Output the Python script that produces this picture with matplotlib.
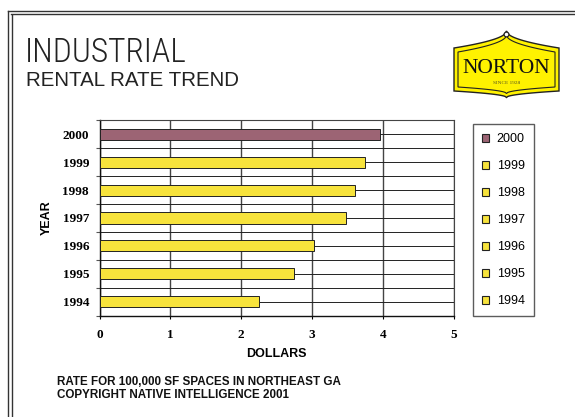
import numpy as np
import matplotlib.pyplot as plt
from matplotlib.patches import Polygon, Circle, Rectangle
from matplotlib.lines import Line2D

# rental rate per year, dollars
years = ['1994', '1995', '1996', '1997', '1998', '1999', '2000']
rates = [2.25, 2.75, 3.02, 3.47, 3.61, 3.75, 3.95]
bar_colors = ['#F7E33C'] * 6 + ['#9C6474']
x_ticks = [0, 1, 2, 3, 4, 5]

W, H = 575, 417
fig = plt.figure(figsize=(W / 100, H / 100), dpi=100)
fig.patch.set_facecolor('white')

sans = ['Liberation Sans', 'DejaVu Sans']
serif = ['Liberation Serif', 'DejaVu Serif']

# double frame, top and left
for px in (7.5, 11.5):
    fig.add_artist(Line2D([px / W, px / W], [0, 1 - (px + 3) / H], color='#333333', lw=1.0))
for py in (10.5, 14.0):
    fig.add_artist(Line2D([(py - 3) / W, 1], [1 - py / H, 1 - py / H], color='#333333', lw=1.0))

# titles
fig.text(25 / W, 1 - 61.5 / H, 'INDUSTRIAL', family=['Roboto Condensed', 'Archivo Narrow'] + sans,
         fontsize=24, fontweight=300, color='#222222', va='baseline', ha='left')
fig.text(26 / W, 1 - 86 / H, 'RENTAL RATE TREND', family=sans,
         fontsize=14.8, color='#222222', va='baseline', ha='left')

# main chart
ax = fig.add_axes([99.5 / W, 1 - 315.7 / H, (454 - 99.5) / W, (315.7 - 120.3) / H])
ypos = np.arange(len(years))
bars = ax.barh(ypos, rates, height=0.4, color=bar_colors, edgecolor='#222222',
               linewidth=0.7, zorder=3)
ax.set_xlim(0, 5)
ax.set_ylim(-0.5, len(years) - 0.5)
ax.set_xticks(x_ticks)
ax.set_xticklabels([str(v) for v in x_ticks], family=serif, fontweight='bold', fontsize=9.5)
ax.set_yticks(ypos)
ax.set_yticklabels(years, family=serif, fontweight='bold', fontsize=9.5)
ax.set_yticks(np.arange(-0.5, len(years)), minor=True)
ax.tick_params(axis='y', which='major', length=0, pad=7.5)
ax.tick_params(axis='y', which='minor', length=3, width=0.8, color='#555555', direction='out')
ax.tick_params(axis='x', which='major', length=2.5, width=0.8, pad=7, direction='out')
ax.grid(axis='y', which='both', color='#222222', lw=0.7, zorder=0)
ax.grid(axis='x', which='major', color='#444444', lw=1.0, zorder=0)
ax.set_axisbelow(True)
for side in ('top', 'right'):
    ax.spines[side].set_color('#444444')
    ax.spines[side].set_linewidth(0.8)
for side in ('left', 'bottom'):
    ax.spines[side].set_color('#111111')
    ax.spines[side].set_linewidth(1.0)
ax.set_xlabel('DOLLARS', family=sans, fontweight='bold', fontsize=9, labelpad=5)
ax.set_ylabel('YEAR', family=sans, fontweight='bold', fontsize=9, labelpad=7)

# legend, newest year first
handles = [Rectangle((0, 0), 1, 1, facecolor=c, edgecolor='#222222', lw=0.8)
           for c in bar_colors[::-1]]
leg = fig.legend(handles, years[::-1], loc='upper left',
                 bbox_to_anchor=(473 / W, 1 - 124.5 / H), frameon=True, fancybox=False,
                 prop={'family': sans, 'size': 9}, handlelength=0.6, handleheight=0.6,
                 handletextpad=0.6, labelspacing=1.2, borderpad=0.7, borderaxespad=0)
leg.get_frame().set_edgecolor('#333333')
leg.get_frame().set_linewidth(1.0)

# company badge
lax = fig.add_axes([0, 0, 1, 1], zorder=5)
lax.set_xlim(0, W)
lax.set_ylim(H, 0)
lax.axis('off')


def badge(d):
    left, right, cx = 454 + d, 559 - d, 506.5
    hw = (right - left) / 2
    t = np.linspace(-1, 1, 81)
    top_y = (31 + d) + ((48 + d) - (31 + d)) * np.abs(t) ** 0.5
    bot_y = (97.5 - d) - ((97.5 - d) - (91 - d)) * np.abs(t) ** 0.5
    xs = cx + t * hw
    top = np.column_stack([xs, top_y])
    bot = np.column_stack([xs[::-1], bot_y[::-1]])
    return np.vstack([[left, top_y[0] + 2], top, [right, top_y[-1] + 2], bot])


lax.add_patch(Polygon(badge(0), closed=True, facecolor='#FFF200', edgecolor='#222222', lw=1.0))
lax.add_patch(Polygon(badge(4), closed=True, facecolor='none', edgecolor='#222222', lw=0.8))
lax.add_patch(Circle((506.5, 34.5), 2.4, facecolor='white', edgecolor='#222222', lw=0.9))
lax.text(506.5, 68.5, 'NORTON', family=serif, fontsize=15.5, ha='center', va='center', color='#111111')
lax.text(506.5, 82.5, 'SINCE 1928', family=serif, fontsize=3.8, ha='center', va='center', color='#555522')

# footnotes
fig.text(57 / W, 1 - 382 / H, 'RATE FOR 100,000 SF SPACES IN NORTHEAST GA', family=sans,
         fontweight='bold', fontsize=8.4, va='center', ha='left', color='#111111')
fig.text(57 / W, 1 - 395.5 / H, 'COPYRIGHT NATIVE INTELLIGENCE 2001', family=sans,
         fontweight='bold', fontsize=8.4, va='center', ha='left', color='#111111')

fig.savefig('out.png', dpi=100)
